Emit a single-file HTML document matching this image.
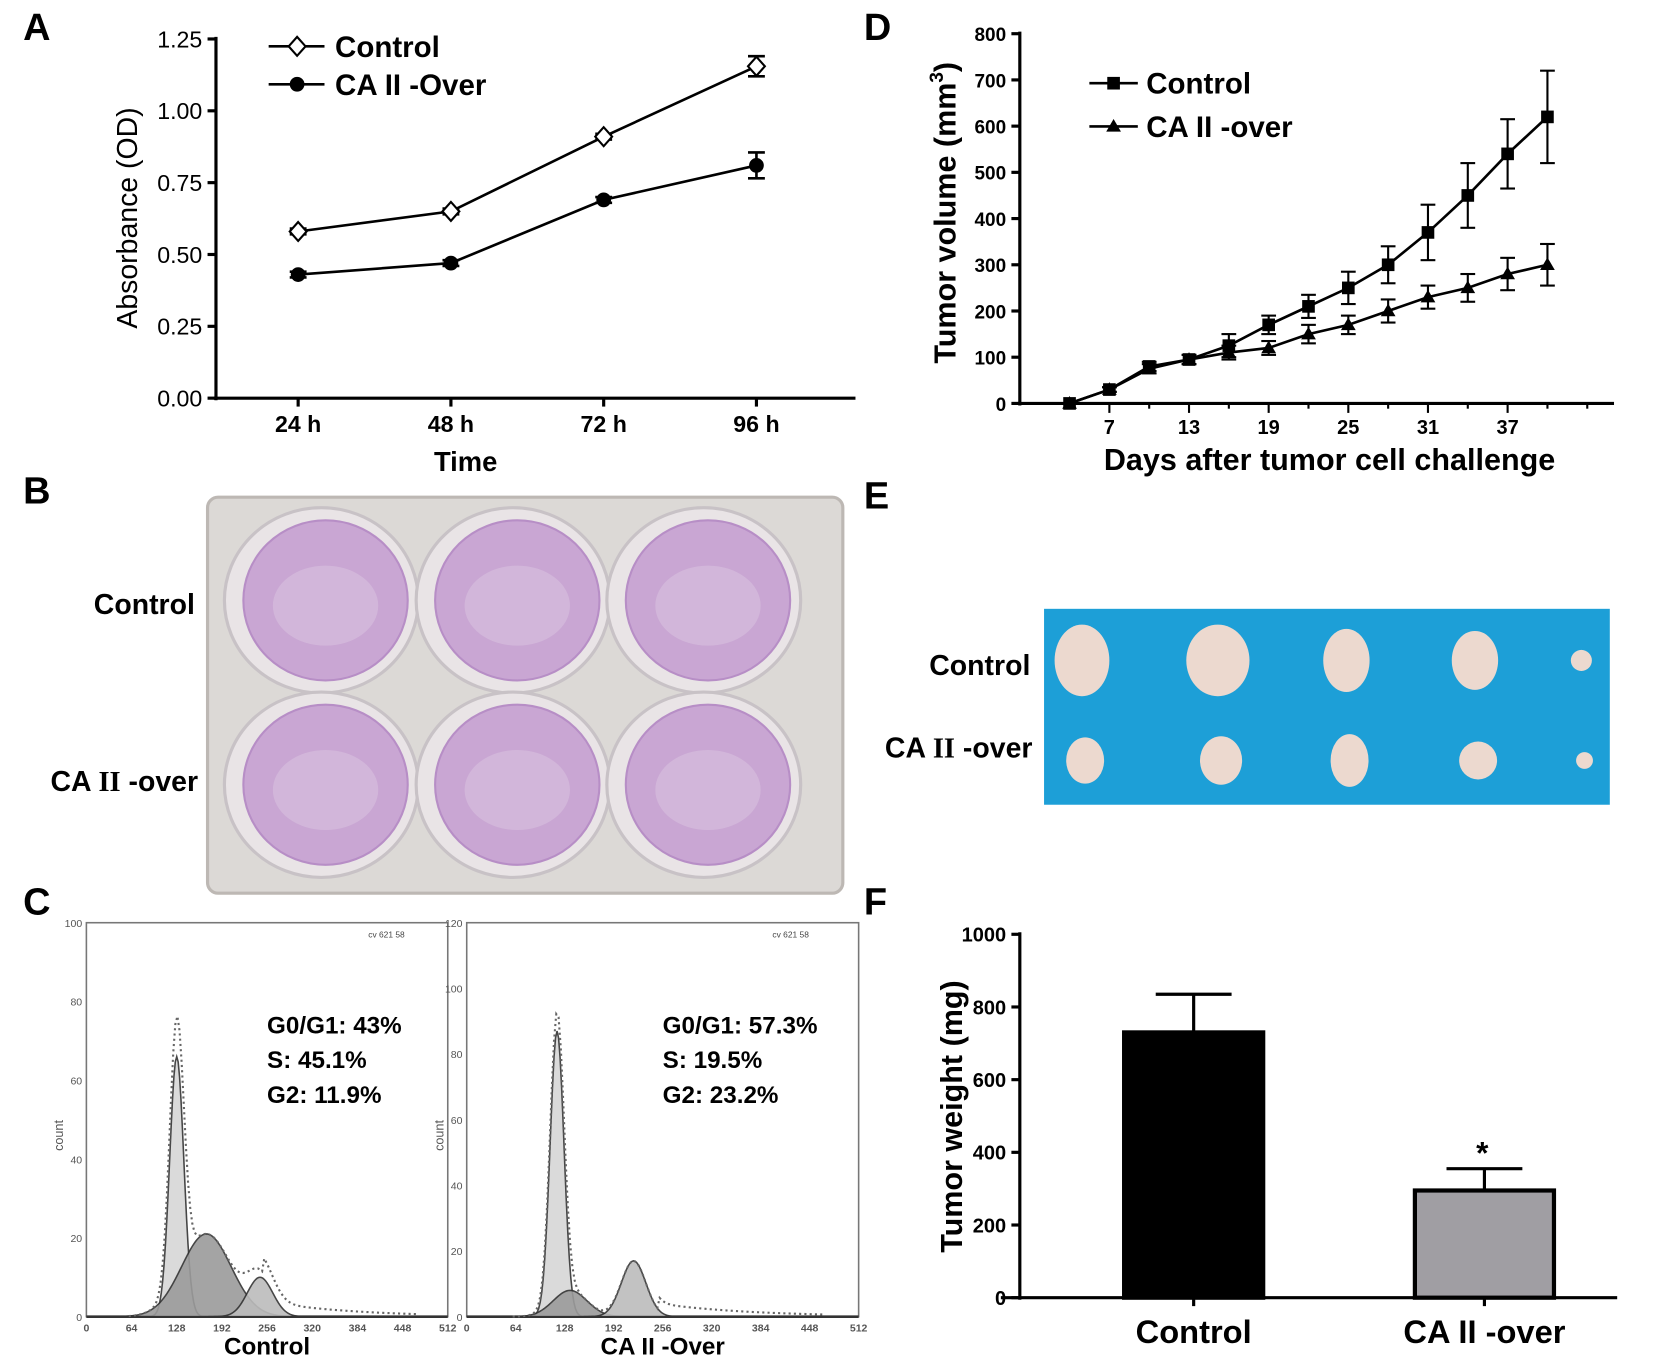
<!DOCTYPE html>
<html><head><meta charset="utf-8"><style>
html,body{margin:0;padding:0;background:#fff;}
svg{display:block;font-family:"Liberation Sans",Arial,sans-serif;}
.b{font-weight:bold;}
</style></head><body>
<svg id="fig" width="1653" height="1363" viewBox="0 0 1569 1294" preserveAspectRatio="none" xmlns="http://www.w3.org/2000/svg">
<rect width="1569" height="1294" fill="#fff"/>
<text x="22" y="38" class="b" font-size="36">A</text>
<text x="22" y="478" class="b" font-size="36">B</text>
<text x="22" y="868" class="b" font-size="36">C</text>
<text x="820" y="38" class="b" font-size="36">D</text>
<text x="820" y="483" class="b" font-size="36">E</text>
<text x="820" y="868" class="b" font-size="36">F</text>

<!-- Panel B photo -->
<g>
<rect x="197" y="472" width="603" height="376" rx="10" fill="#dcd9d6" stroke="#bdb8b4" stroke-width="3"/>
<g id="wells"></g>
<text x="185" y="583" text-anchor="end" class="b" font-size="27">Control</text>
<text x="188" y="751" text-anchor="end" class="b" font-size="27">CA <tspan font-family="Liberation Serif">II</tspan> -over</text>
</g>

<!-- Panel E photo -->
<g>
<rect x="991" y="578" width="537" height="186" fill="#1d9fd7"/>
<g id="tumors"></g>
<text x="978" y="641" text-anchor="end" class="b" font-size="27">Control</text>
<text x="980" y="719" text-anchor="end" class="b" font-size="27">CA <tspan font-family="Liberation Serif">II</tspan> -over</text>
</g>

<g id="chartA"></g>
<g id="chartD"></g>
<g id="chartF"></g>
<g id="chartC"></g>
</svg>
<script>
// Panel A data
const aCats=["24 h","48 h","72 h","96 h"];
const aControl=[0.58,0.65,0.91,1.155];
const aControlErr=[0.01,0.01,0.01,0.035];
const aOver=[0.43,0.47,0.69,0.81];
const aOverErr=[0.01,0.01,0.01,0.045];
const aTicks=[0,0.25,0.5,0.75,1.0,1.25];
// Panel D data
const dDays=[4,7,10,13,16,19,22,25,28,31,34,37,40];
const dControl=[0,30,80,95,125,170,210,250,300,370,450,540,620];
const dControlErr=[0,5,10,10,25,20,25,35,40,60,70,75,100];
const dOver=[0,30,75,95,110,120,150,170,200,230,250,280,300];
const dOverErr=[0,5,10,10,15,15,20,20,25,25,30,35,45];
const dXTicks=[7,13,19,25,31,37];
const dYTicks=[0,100,200,300,400,500,600,700,800];
// Panel F data
const fCats=["Control","CA II -over"];
const fVals=[730,295];
const fErr=[105,60];
const fTicks=[0,200,400,600,800,1000];
// Panel C data (peak position, height, sd)
const cLeftPeaks=[[128,66,10],[170,21,35],[246,10,18]];
const cRightPeaks=[[118,87,9],[135,8,22],[218,17,16]];
const cLeftText=["G0/G1: 43%","S: 45.1%","G2: 11.9%"];
const cRightText=["G0/G1: 57.3%","S: 19.5%","G2: 23.2%"];
const cXTicks=[0,64,128,192,256,320,384,448,512];

const NS="http://www.w3.org/2000/svg";
function el(parent,tag,attrs,text){const e=document.createElementNS(NS,tag);for(const k in attrs)e.setAttribute(k,attrs[k]);if(text!==undefined)e.textContent=text;parent.appendChild(e);return e;}

// ---------- wells ----------
(function(){
 const g=document.getElementById('wells');
 const cx=[305,487,668],cy=[570,745];
 cy.forEach((y,r)=>cx.forEach((x,c)=>{
  const w=el(g,'ellipse',{cx:x,cy:y,rx:92,ry:88,fill:'#e9e4e6',stroke:'#c8c2c6','stroke-width':3});
  
  const i=el(g,'ellipse',{cx:x+4,cy:y,rx:78,ry:76,fill:'#c9a6d3',stroke:'#b78ec6','stroke-width':2});
  
  el(g,'ellipse',{cx:x+4,cy:y+5,rx:50,ry:38,fill:'#d6bedd',opacity:0.7});
 }));
})();
// ---------- tumors ----------
(function(){
 const g=document.getElementById('tumors');
 const xs=[1027,1156,1278,1400,1501];
 const top=[[26,34],[30,34],[22,30],[22,28],[10,10]];
 const bot=[[18,22],[20,23],[18,25],[18,18],[8,8]];
 xs.forEach((x,i)=>{
  let t=el(g,'ellipse',{cx:x,cy:627,rx:top[i][0],ry:top[i][1],fill:'#ecd9cf'});
  
  let b=el(g,'ellipse',{cx:x+3,cy:722,rx:bot[i][0],ry:bot[i][1],fill:'#ecd9cf'});
  
 });
})();

// ---------- Panel A ----------
(function(){
 const g=document.getElementById('chartA');
 const y=v=>378-v*(378-37)/1.25;
 const x=i=>283+i*145;
 el(g,'line',{x1:205,y1:35,x2:205,y2:380,stroke:'#000','stroke-width':3});
 el(g,'line',{x1:203,y1:378,x2:812,y2:378,stroke:'#000','stroke-width':3});
 aTicks.forEach(t=>{el(g,'line',{x1:197,y1:y(t),x2:205,y2:y(t),stroke:'#000','stroke-width':3});
  const l=el(g,'text',{x:192,y:y(t)+8,'text-anchor':'end','font-size':22},t.toFixed(2));
  });
 aCats.forEach((c,i)=>{el(g,'line',{x1:x(i),y1:378,x2:x(i),y2:386,stroke:'#000','stroke-width':3});
  const l=el(g,'text',{x:x(i),y:410,'text-anchor':'middle','font-size':22,class:'b'},c);
  });
 const xt=el(g,'text',{x:442,y:447,'text-anchor':'middle','font-size':26,class:'b'},'Time');
 
 const yt=el(g,'text',{x:0,y:0,transform:'translate(130,207) rotate(-90)','text-anchor':'middle','font-size':27},'Absorbance (OD)');
 
 function series(vals,errs,filled,name){
  const pts=vals.map((v,i)=>x(i)+','+y(v)).join(' ');
  const p=el(g,'polyline',{points:pts,fill:'none',stroke:'#000','stroke-width':2.5});
  
  vals.forEach((v,i)=>{
   el(g,'line',{x1:x(i),y1:y(v+errs[i]),x2:x(i),y2:y(v-errs[i]),stroke:'#000','stroke-width':2.5});
   el(g,'line',{x1:x(i)-8,y1:y(v+errs[i]),x2:x(i)+8,y2:y(v+errs[i]),stroke:'#000','stroke-width':2.5});
   el(g,'line',{x1:x(i)-8,y1:y(v-errs[i]),x2:x(i)+8,y2:y(v-errs[i]),stroke:'#000','stroke-width':2.5});
   let m;
   if(filled) m=el(g,'circle',{cx:x(i),cy:y(v),r:7,fill:'#000'});
   else m=el(g,'polygon',{points:`${x(i)},${y(v)-9} ${x(i)+8},${y(v)} ${x(i)},${y(v)+9} ${x(i)-8},${y(v)}`,fill:'#fff',stroke:'#000','stroke-width':2});
   
  });
 }
 series(aControl,aControlErr,false,'a-control');
 series(aOver,aOverErr,true,'a-caii');
 el(g,'line',{x1:255,y1:44,x2:308,y2:44,stroke:'#000','stroke-width':2.5});
 el(g,'polygon',{points:'282,35 290,44 282,53 274,44',fill:'#fff',stroke:'#000','stroke-width':2});
 let l1=el(g,'text',{x:318,y:54,'font-size':28,class:'b'},'Control');
 
 el(g,'line',{x1:255,y1:80,x2:308,y2:80,stroke:'#000','stroke-width':2.5});
 el(g,'circle',{cx:282,cy:80,r:7,fill:'#000'});
 let l2=el(g,'text',{x:318,y:90,'font-size':28,class:'b'},'CA II -Over');
 
})();

// ---------- Panel D ----------
(function(){
 const g=document.getElementById('chartD');
 const y=v=>383-v*(383-32)/800;
 const x=d=>1053+(d-7)*12.6;
 el(g,'line',{x1:968,y1:30,x2:968,y2:385,stroke:'#000','stroke-width':3});
 el(g,'line',{x1:966,y1:383,x2:1532,y2:383,stroke:'#000','stroke-width':3});
 dYTicks.forEach(t=>{el(g,'line',{x1:960,y1:y(t),x2:968,y2:y(t),stroke:'#000','stroke-width':3});
  const l=el(g,'text',{x:955,y:y(t)+7,'text-anchor':'end','font-size':18,class:'b'},t);
  });
 for(let d=4;d<=43;d+=3){const major=dXTicks.includes(d);
  el(g,'line',{x1:x(d),y1:383,x2:x(d),y2:major?392:388,stroke:'#000','stroke-width':2});}
 dXTicks.forEach(t=>{const l=el(g,'text',{x:x(t),y:412,'text-anchor':'middle','font-size':19,class:'b'},t);
  });
 const xt=el(g,'text',{x:1262,y:446,'text-anchor':'middle','font-size':29,class:'b'},'Days after tumor cell challenge');
 
 const yt=el(g,'text',{x:0,y:0,transform:'translate(907,202) rotate(-90)','text-anchor':'middle','font-size':29,class:'b'});
 
 yt.innerHTML='Tumor volume (mm<tspan font-size="18" dy="-12">3</tspan><tspan dy="12">)</tspan>';
 function series(vals,errs,tri,name){
  const p=el(g,'polyline',{points:vals.map((v,i)=>x(dDays[i])+','+y(v)).join(' '),fill:'none',stroke:'#000','stroke-width':2.5});
  
  vals.forEach((v,i)=>{const X=x(dDays[i]);
   if(errs[i]>0){el(g,'line',{x1:X,y1:y(v+errs[i]),x2:X,y2:y(v-errs[i]),stroke:'#000','stroke-width':2});
   el(g,'line',{x1:X-7,y1:y(v+errs[i]),x2:X+7,y2:y(v+errs[i]),stroke:'#000','stroke-width':2});
   el(g,'line',{x1:X-7,y1:y(v-errs[i]),x2:X+7,y2:y(v-errs[i]),stroke:'#000','stroke-width':2});}
   let m;
   if(tri) m=el(g,'polygon',{points:`${X},${y(v)-7} ${X+7},${y(v)+5} ${X-7},${y(v)+5}`,fill:'#000'});
   else m=el(g,'rect',{x:X-6,y:y(v)-6,width:12,height:12,fill:'#000'});
   });
 }
 series(dControl,dControlErr,false,'d-control');
 series(dOver,dOverErr,true,'d-caii');
 el(g,'line',{x1:1034,y1:79,x2:1080,y2:79,stroke:'#000','stroke-width':2.5});
 el(g,'rect',{x:1051,y:73,width:12,height:12,fill:'#000'});
 let l1=el(g,'text',{x:1088,y:89,'font-size':28,class:'b'},'Control');
 
 el(g,'line',{x1:1034,y1:120,x2:1080,y2:120,stroke:'#000','stroke-width':2.5});
 el(g,'polygon',{points:'1057,113 1064,125 1050,125',fill:'#000'});
 let l2=el(g,'text',{x:1088,y:130,'font-size':28,class:'b'},'CA II -over');
 
})();

// ---------- Panel F ----------
(function(){
 const g=document.getElementById('chartF');
 const y=v=>1232-v*(1232-887)/1000;
 const cx=[1133,1409];
 el(g,'line',{x1:968,y1:885,x2:968,y2:1234,stroke:'#000','stroke-width':3});
 el(g,'line',{x1:950,y1:1232,x2:1535,y2:1232,stroke:'#000','stroke-width':3});
 fTicks.forEach(t=>{el(g,'line',{x1:960,y1:y(t),x2:968,y2:y(t),stroke:'#000','stroke-width':3});
  const l=el(g,'text',{x:955,y:y(t)+7,'text-anchor':'end','font-size':19,class:'b'},t);
  });
 const yt=el(g,'text',{x:0,y:0,transform:'translate(913,1060) rotate(-90)','text-anchor':'middle','font-size':29,class:'b'},'Tumor weight (mg)');
 
 const fills=['#000','#a09ea3'];
 fCats.forEach((c,i)=>{const X=cx[i];
  el(g,'line',{x1:X,y1:y(fVals[i]),x2:X,y2:y(fVals[i]+fErr[i]),stroke:'#000','stroke-width':3});
  el(g,'line',{x1:X-36,y1:y(fVals[i]+fErr[i]),x2:X+36,y2:y(fVals[i]+fErr[i]),stroke:'#000','stroke-width':3});
  const b=el(g,'rect',{x:X-66,y:y(fVals[i]),width:132,height:1232-y(fVals[i]),fill:fills[i],stroke:'#000','stroke-width':4});
  
  el(g,'line',{x1:X,y1:1232,x2:X,y2:1240,stroke:'#000','stroke-width':3});
  const l=el(g,'text',{x:X,y:1275,'text-anchor':'middle','font-size':31,class:'b'},c);
  });
 const s=el(g,'text',{x:cx[1]-2,y:y(fVals[1]+fErr[1])-5,'text-anchor':'middle','font-size':30,class:'b'},'*');
 
})();

// ---------- Panel C ----------
(function(){
 const g=document.getElementById('chartC');
 function hist(x0,x1,yTop,yBot,ymax,peaks,txt,label,tickStep,name){
  const X=v=>x0+v*(x1-x0)/512, Y=v=>yBot-v*(yBot-yTop)/ymax;
  el(g,'rect',{x:x0,y:yTop,width:x1-x0,height:yBot-yTop,fill:'none',stroke:'#777','stroke-width':1.5});
  el(g,'line',{x1:x0,y1:yBot,x2:x1,y2:yBot,stroke:'#333','stroke-width':2.5});
  for(let t=0;t<=ymax;t+=tickStep){el(g,'text',{x:x0-4,y:Y(t)+4,'text-anchor':'end','font-size':10,fill:'#555'},t);}
  cXTicks.forEach(t=>el(g,'text',{x:X(t),y:yBot+14,'text-anchor':'middle','font-size':10,fill:'#555',class:'b'},t));
  el(g,'text',{x:x0+(x1-x0)*0.78,y:yTop+14,'font-size':8,fill:'#444'},'cv 621 58');
  el(g,'text',{x:0,y:0,transform:`translate(${x0-22},${(yTop+yBot)/2+15}) rotate(-90)`,'text-anchor':'middle','font-size':12,fill:'#555'},'count');
  const cols=['#d6d6d6','#9b9b9b','#bcbcbc'];
  peaks.forEach((p,k)=>{let d=`M${X(p[0]-4*p[2])},${yBot}`;
   for(let v=p[0]-4*p[2];v<=p[0]+4*p[2];v+=2){d+=` L${X(v)},${Y(p[1]*Math.exp(-((v-p[0])**2)/(2*p[2]*p[2])))}`;}
   d+=` L${X(p[0]+4*p[2])},${yBot}Z`;
   const pa=el(g,'path',{d:d,fill:cols[k],stroke:'#333','stroke-width':1.5,opacity:0.9});
   });
  let d='';for(let v=60;v<=470;v+=3){let s=0;peaks.forEach(p=>s+=p[1]*Math.exp(-((v-p[0])**2)/(2*p[2]*p[2])));
   if(v>250)s+=4*Math.exp(-(v-250)/120);d+=(d?' L':'M')+X(v)+','+Y(s);}
  el(g,'path',{d:d,fill:'none',stroke:'#666','stroke-width':2,'stroke-dasharray':'2,3'});
  txt.forEach((t,i)=>{const l=el(g,'text',{x:x0+(x1-x0)*0.5,y:yTop+105+i*33,'font-size':23,class:'b'},t);
   });
  const lb=el(g,'text',{x:(x0+x1)/2,y:1286,'text-anchor':'middle','font-size':23,class:'b'},label);
  
 }
 hist(82,425,876,1250,100,cLeftPeaks,cLeftText,'Control',20,'c-control');
 hist(443,815,876,1250,120,cRightPeaks,cRightText,'CA II -Over',20,'c-caii');
})();
</script>
</body></html>
